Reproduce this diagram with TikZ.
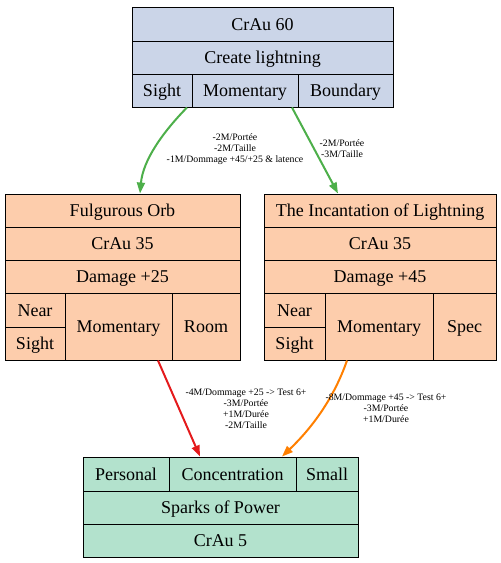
\documentclass[tikz,border=0pt]{standalone}
\usepackage{fontspec}
\setmainfont{Liberation Serif}
\usetikzlibrary{arrows.meta}
\definecolor{cblue}{HTML}{CBD5E8}
\definecolor{corange}{HTML}{FDCDAC}
\definecolor{cgreen}{HTML}{B3E2CD}
\definecolor{egreen}{HTML}{4DAF4A}
\definecolor{ered}{HTML}{E41A1C}
\definecolor{eorange}{HTML}{FF7F00}
\tikzset{
  cellbox/.style={draw=black, line width=1pt, inner sep=0pt, text=black,
    text height=15pt, text depth=3pt,
    font=\fontsize{18}{20}\selectfont},
  edge/.style={line width=2pt, -{Triangle[length=11pt,width=8pt]}},
  elabel/.style={font=\fontsize{9.8}{11}\selectfont, align=center, inner sep=0pt, text=black}
}
\newcommand\mkcell[7]{%
  \pgfmathsetmacro\cellw{#4-#2}\pgfmathsetmacro\cellh{#5-#3}%
  \node[cellbox, fill=#6, minimum width=\cellw pt, minimum height=\cellh pt] (#1)
    at ({(#2+#4)/2},{(#3+#5)/2}) {#7};}
\begin{document}
\begin{tikzpicture}[x=1pt,y=-1pt]
\useasboundingbox (0,0) rectangle (501,563);
% top
\mkcell{tcrau}{132}{7}{393}{41}{cblue}{CrAu 60}
\mkcell{tcreate}{132}{41}{393}{74}{cblue}{Create lightning}
\mkcell{tsight}{132}{74}{192}{107}{cblue}{Sight}
\mkcell{tmom}{192}{74}{298}{107}{cblue}{Momentary}
\mkcell{tbound}{298}{74}{393}{107}{cblue}{Boundary}
% left
\mkcell{lname}{5}{194}{240}{227}{corange}{Fulgurous Orb}
\mkcell{lcrau}{5}{227}{240}{260}{corange}{CrAu 35}
\mkcell{ldmg}{5}{260}{240}{293}{corange}{Damage +25}
\mkcell{lnear}{5}{293}{65}{327}{corange}{Near}
\mkcell{lsight}{5}{327}{65}{360}{corange}{Sight}
\mkcell{lmom}{65}{293}{172}{360}{corange}{Momentary}
\mkcell{lroom}{172}{293}{240}{360}{corange}{Room}
% right
\mkcell{rname}{264}{194}{496}{227}{corange}{The Incantation of Lightning}
\mkcell{rcrau}{264}{227}{496}{260}{corange}{CrAu 35}
\mkcell{rdmg}{264}{260}{496}{293}{corange}{Damage +45}
\mkcell{rnear}{264}{293}{325}{327}{corange}{Near}
\mkcell{rsight}{264}{327}{325}{360}{corange}{Sight}
\mkcell{rmom}{325}{293}{433}{360}{corange}{Momentary}
\mkcell{rspec}{433}{293}{496}{360}{corange}{Spec}
% bottom
\mkcell{bpers}{83}{457}{169}{491}{cgreen}{Personal}
\mkcell{bconc}{169}{457}{296}{491}{cgreen}{Concentration}
\mkcell{bsmall}{296}{457}{358}{491}{cgreen}{Small}
\mkcell{bsparks}{83}{491}{358}{524}{cgreen}{Sparks of Power}
\mkcell{bcrau}{83}{524}{358}{557}{cgreen}{CrAu 5}
% edges
\draw[edge, egreen] ([xshift=25pt]tsight.south) .. controls (163,132) and (143,160) .. ([xshift=17.5pt]lname.north);
\draw[edge, egreen] ([xshift=47pt]tmom.south) -- ([xshift=-42pt]rname.north);
\draw[edge, ered] ([xshift=39.5pt]lmom.south) -- ([xshift=-32.5pt]bconc.north);
\draw[edge, eorange] ([xshift=-32pt]rmom.south) .. controls (335,395) and (315,425) .. ([xshift=49.5pt]bconc.north);
% labels
\node[elabel] (lab1) at (235,149.5) {-2M/Portée\\-2M/Taille\\-1M/Dommage +45/+25 \& latence};
\node[elabel] (lab2) at (342,149) {-2M/Portée\\-3M/Taille};
\node[elabel] (lab3) at (246,409) {-4M/Dommage +25 -> Test 6+\\-3M/Portée\\+1M/Durée\\-2M/Taille};
\node[elabel] (lab4) at (386,408.5) {-8M/Dommage +45 -> Test 6+\\-3M/Portée\\+1M/Durée};
\end{tikzpicture}
\end{document}
